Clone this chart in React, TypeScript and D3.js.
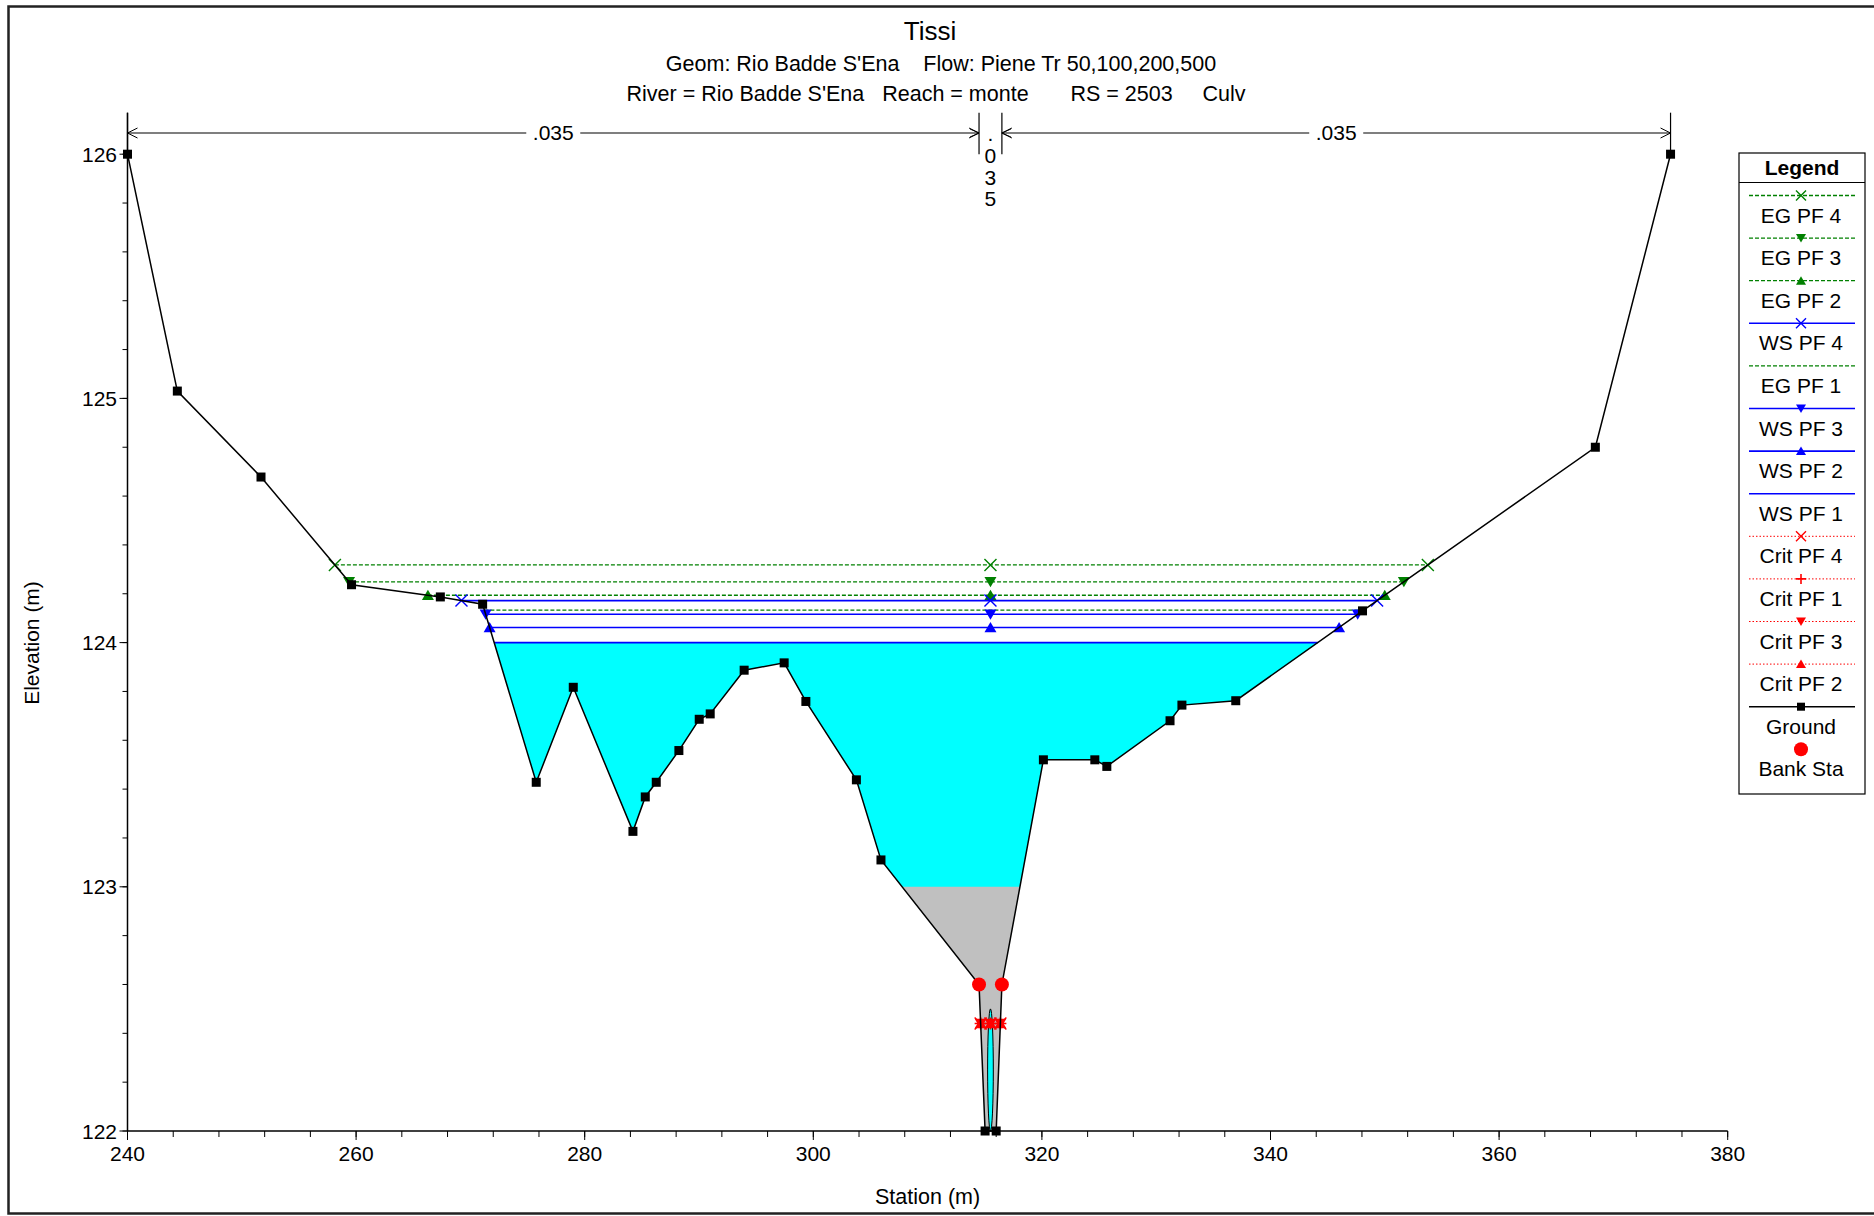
import React from 'react';
import * as d3 from 'd3';

// ---------- data ----------
const groundSta = [240, 244.36, 251.68, 259.6, 267.37, 271.07, 275.76, 279.0, 284.22, 285.3, 286.26, 288.24, 290.02, 290.98, 293.95, 297.45, 299.35, 303.77, 305.92, 314.5, 315.03, 316.0, 316.5, 320.13, 324.63, 325.68, 331.21, 332.25, 336.96, 348.05, 368.42, 375.0];
const groundElev = [126.0, 125.03, 124.678, 124.237, 124.187, 124.157, 123.428, 123.817, 123.227, 123.368, 123.428, 123.558, 123.686, 123.708, 123.887, 123.917, 123.759, 123.438, 123.11, 122.6, 122.0, 122.0, 122.6, 123.52, 123.52, 123.493, 123.68, 123.744, 123.762, 124.13, 124.8, 126.0];
const bankSta = [314.5, 316.5];
const bankElev = [122.6, 122.6];
const profileNames = ["EG PF 4", "EG PF 3", "EG PF 2", "WS PF 4", "EG PF 1", "WS PF 3", "WS PF 2", "WS PF 1", "Crit PF 4", "Crit PF 1", "Crit PF 3", "Crit PF 2"];
const profileElev = [124.318, 124.249, 124.194, 124.172, 124.133, 124.116, 124.062, 124.0, 122.44, 122.44, 122.44, 122.44];
const wsFillProfile = "WS PF 1";
const manningBreaks = [240, 314.5, 316.5, 375];
const manningValues = [".035", ".035", ".035"];
const culvertCenterSta = 315.5;
const culvertInvert = 122.0;
const culvertRise = 0.5;
const culvertSpan = 0.5;
const culvertFillTop = 123.0;
const xTicks = [240, 260, 280, 300, 320, 340, 360, 380];
const yTicks = [122, 123, 124, 125, 126];
const titleText = "Tissi";
const subtitle1 = "Geom: Rio Badde S'Ena    Flow: Piene Tr 50,100,200,500";
const subtitle2 = "River = Rio Badde S'Ena   Reach = monte       RS = 2503     Culv";
const xLabel = "Station (m)";
const yLabel = "Elevation (m)";
const legendTitle = "Legend";
const legendNames = [...profileNames, "Ground", "Bank Sta"];

// ---------- styles ----------
const GREEN = '#008000', BLUE = '#0000FF', RED = '#FF0000';
const STYLE: Record<string, { color: string; dash?: string; marker?: string; width: number }> = {
  'EG PF 4': { color: GREEN, dash: '4,2', marker: 'x', width: 1.3 },
  'EG PF 3': { color: GREEN, dash: '4,2', marker: 'down', width: 1.3 },
  'EG PF 2': { color: GREEN, dash: '4,2', marker: 'up', width: 1.3 },
  'WS PF 4': { color: BLUE, marker: 'x', width: 1.6 },
  'EG PF 1': { color: GREEN, dash: '4,2', width: 1.3 },
  'WS PF 3': { color: BLUE, marker: 'down', width: 1.6 },
  'WS PF 2': { color: BLUE, marker: 'up', width: 1.6 },
  'WS PF 1': { color: BLUE, width: 1.6 },
  'Crit PF 4': { color: RED, dash: '1.5,2', marker: 'x', width: 1 },
  'Crit PF 1': { color: RED, dash: '1.5,2', marker: 'plus', width: 1 },
  'Crit PF 3': { color: RED, dash: '1.5,2', marker: 'down', width: 1 },
  'Crit PF 2': { color: RED, dash: '1.5,2', marker: 'up', width: 1 },
  'Ground': { color: '#000', marker: 'square', width: 1.5 },
  'Bank Sta': { color: RED, marker: 'circle', width: 0 },
};
const FONT = '"Liberation Sans", Arial, Helvetica, sans-serif';

const x = d3.scaleLinear().domain([240, 380]).range([127.5, 1727.7]);
const y = d3.scaleLinear().domain([122, 126]).range([1131, 154.2]);

const ground = groundSta.map((s, i) => ({ s, e: groundElev[i] }));

function span(level: number, center: number) {
  const i = ground.findIndex((p, k) => k < ground.length - 1 && p.s <= center && ground[k + 1].s > center);
  let li = i;
  while (li >= 0 && ground[li].e < level) li--;
  const a = ground[li], b = ground[li + 1];
  const ls = a.s + ((a.e - level) / (a.e - b.e)) * (b.s - a.s);
  let ri = i + 1;
  while (ri < ground.length && ground[ri].e < level) ri++;
  const c = ground[ri - 1], d = ground[ri];
  const rs = c.s + ((level - c.e) / (d.e - c.e)) * (d.s - c.s);
  return { ls, rs, inner: ground.slice(li + 1, ri) };
}

function Marker({ type, cx, cy, color, size = 6 }: { type?: string; cx: number; cy: number; color: string; size?: number }) {
  if (!type) return null;
  const s = size;
  switch (type) {
    case 'x':
      return <path d={`M${cx - s},${cy - s}L${cx + s},${cy + s}M${cx - s},${cy + s}L${cx + s},${cy - s}`} stroke={color} strokeWidth={1.4} fill="none" />;
    case 'plus':
      return <path d={`M${cx - s},${cy}L${cx + s},${cy}M${cx},${cy - s}L${cx},${cy + s}`} stroke={color} strokeWidth={1.6} fill="none" />;
    case 'down':
      return <path d={`M${cx - s},${cy - s * 0.8}L${cx + s},${cy - s * 0.8}L${cx},${cy + s * 0.9}Z`} fill={color} />;
    case 'up':
      return <path d={`M${cx - s},${cy + s * 0.8}L${cx + s},${cy + s * 0.8}L${cx},${cy - s * 0.9}Z`} fill={color} />;
    case 'square':
      return <rect x={cx - 4.5} y={cy - 4.5} width={9} height={9} fill={color} />;
    case 'circle':
      return <circle cx={cx} cy={cy} r={7} fill={color} />;
    default:
      return null;
  }
}

export default function App() {
  const center = (bankSta[0] + bankSta[1]) / 2;
  const lineGen = d3.line<{ s: number; e: number }>().x(p => x(p.s)).y(p => y(p.e));

  const wsLevel = profileElev[profileNames.indexOf(wsFillProfile)];
  const ws = span(wsLevel, center);
  const waterPts = [{ s: ws.ls, e: wsLevel }, ...ws.inner, { s: ws.rs, e: wsLevel }];
  const gf = span(culvertFillTop, center);
  const greyPts = [{ s: gf.ls, e: culvertFillTop }, ...gf.inner, { s: gf.rs, e: culvertFillTop }];

  const axisTop = y(126.17);
  const nY = 133;
  const bracketBottom = y(126);

  const xMinor = d3.range(240, 380.01, 4);
  const yMinor = d3.range(122, 126.01, 0.2);

  const legX0 = 1739, legY0 = 153, legW = 126, legH = 641;
  const legLine0 = 195.5, legStep = 42.6;

  return (
    <svg width={1874} height={1216} style={{ position: 'absolute', left: 0, top: 0, background: '#fff' }} fontFamily={FONT}>
      <rect x={0} y={0} width={1874} height={1216} fill="#fff" />
      <rect x={8.5} y={6.5} width={1900} height={1207} fill="none" stroke="#222" strokeWidth={2.5} />

      {/* titles */}
      <text x={930} y={40} fontSize={26} textAnchor="middle">{titleText}</text>
      <text x={941} y={71} fontSize={21.5} textAnchor="middle" style={{ whiteSpace: 'pre' }}>{subtitle1}</text>
      <text x={936} y={101} fontSize={21.5} textAnchor="middle" style={{ whiteSpace: 'pre' }}>{subtitle2}</text>

      {/* water fill */}
      <path d={lineGen(waterPts) + 'Z'} fill="#00FFFF" stroke="none" />
      {/* culvert grey fill */}
      <path d={lineGen(greyPts) + 'Z'} fill="#C0C0C0" stroke="none" />
      {/* culvert opening */}
      <ellipse cx={x(culvertCenterSta)} cy={y(culvertInvert + culvertRise / 2)} rx={x(culvertCenterSta + culvertSpan / 2) - x(culvertCenterSta)} ry={y(culvertInvert) - y(culvertInvert + culvertRise / 2)} fill="#00FFFF" stroke="#000" strokeWidth={1} />

      {/* profile lines */}
      {profileNames.map((name, i) => {
        const lev = profileElev[i];
        const sp = span(lev, center);
        const st = STYLE[name];
        return (
          <g key={name}>
            <line x1={x(sp.ls)} x2={x(sp.rs)} y1={y(lev)} y2={y(lev)} stroke={st.color} strokeWidth={st.width} strokeDasharray={st.dash} />
            {st.marker && [sp.ls, center, sp.rs].map((s, k) => (
              <Marker key={k} type={st.marker} cx={x(s)} cy={y(lev)} color={st.color} />
            ))}
          </g>
        );
      })}

      {/* ground */}
      <path d={lineGen(ground) || ''} fill="none" stroke="#000" strokeWidth={1.5} />
      {ground.map((p, i) => <Marker key={i} type="square" cx={x(p.s)} cy={y(p.e)} color="#000" />)}
      {bankSta.map((s, i) => <Marker key={i} type="circle" cx={x(s)} cy={y(bankElev[i])} color={RED} />)}

      {/* Manning's n */}
      {manningBreaks.map((s, i) => (
        <line key={i} x1={x(s)} x2={x(s)} y1={axisTop} y2={bracketBottom} stroke="#000" strokeWidth={1.2} />
      ))}
      {manningValues.map((v, i) => {
        const x0 = x(manningBreaks[i]), x1 = x(manningBreaks[i + 1]);
        const xm = (x0 + x1) / 2;
        if (x1 - x0 < 60) {
          return (
            <g key={i}>
              {v.split('').map((ch, k) => (
                <text key={k} x={xm} y={141 + k * 21.8} fontSize={21} textAnchor="middle">{ch}</text>
              ))}
              <path d={`M${x0 - 9},${nY - 4}L${x0},${nY}L${x0 - 9},${nY + 4}`} fill="none" stroke="#000" strokeWidth={1} />
              <path d={`M${x1 + 9},${nY - 4}L${x1},${nY}L${x1 + 9},${nY + 4}`} fill="none" stroke="#000" strokeWidth={1} />
            </g>
          );
        }
        const half = 27;
        return (
          <g key={i}>
            <line x1={x0} x2={xm - half} y1={nY} y2={nY} stroke="#000" strokeWidth={1.2} />
            <line x1={xm + half} x2={x1} y1={nY} y2={nY} stroke="#000" strokeWidth={1.2} />
            <path d={`M${x0 + 10},${nY - 5}L${x0},${nY}L${x0 + 10},${nY + 5}`} fill="none" stroke="#000" strokeWidth={1} />
            <path d={`M${x1 - 10},${nY - 5}L${x1},${nY}L${x1 - 10},${nY + 5}`} fill="none" stroke="#000" strokeWidth={1} />
            <text x={xm} y={nY + 7} fontSize={21} textAnchor="middle">{v}</text>
          </g>
        );
      })}

      {/* axes */}
      <line x1={x(240)} x2={x(380)} y1={y(122)} y2={y(122)} stroke="#000" strokeWidth={1.5} />
      <line x1={x(240)} x2={x(240)} y1={axisTop} y2={y(122)} stroke="#000" strokeWidth={1.5} />
      {xMinor.map((t, i) => <line key={i} x1={x(t)} x2={x(t)} y1={y(122)} y2={y(122) + 6} stroke="#000" strokeWidth={1} />)}
      {xTicks.map(t => (
        <g key={t}>
          <line x1={x(t)} x2={x(t)} y1={y(122)} y2={y(122) + 9} stroke="#000" strokeWidth={1} />
          <text x={x(t)} y={1161} fontSize={21} textAnchor="middle">{t}</text>
        </g>
      ))}
      {yMinor.map((t, i) => <line key={i} x1={x(240) - 5} x2={x(240)} y1={y(t)} y2={y(t)} stroke="#000" strokeWidth={1} />)}
      {yTicks.map(t => (
        <g key={t}>
          <line x1={x(240) - 8} x2={x(240)} y1={y(t)} y2={y(t)} stroke="#000" strokeWidth={1} />
          <text x={117} y={y(t) + 7.5} fontSize={21} textAnchor="end">{t}</text>
        </g>
      ))}
      <text x={(x(240) + x(380)) / 2} y={1204} fontSize={21.5} textAnchor="middle">{xLabel}</text>
      <text transform={`translate(39,643) rotate(-90)`} fontSize={21} textAnchor="middle">{yLabel}</text>

      {/* legend */}
      <rect x={legX0} y={legY0} width={legW} height={legH} fill="#fff" stroke="#000" strokeWidth={1.2} />
      <line x1={legX0} x2={legX0 + legW} y1={182.5} y2={182.5} stroke="#000" strokeWidth={1.2} />
      <text x={legX0 + legW / 2} y={175} fontSize={21} fontWeight="bold" textAnchor="middle">{legendTitle}</text>
      {legendNames.map((name, i) => {
        const st = STYLE[name];
        const ly = legLine0 + i * legStep;
        const cx = 1801;
        return (
          <g key={name}>
            {st.width > 0 && <line x1={1749} x2={1855} y1={ly} y2={ly} stroke={st.color} strokeWidth={st.width} strokeDasharray={st.dash} />}
            {name === 'Ground'
              ? <rect x={cx - 4} y={ly - 4} width={8} height={8} fill="#000" />
              : <Marker type={st.marker} cx={cx} cy={ly} color={st.color} size={5} />}
            <text x={cx} y={ly + 27} fontSize={21} textAnchor="middle">{name}</text>
          </g>
        );
      })}
    </svg>
  );
}
